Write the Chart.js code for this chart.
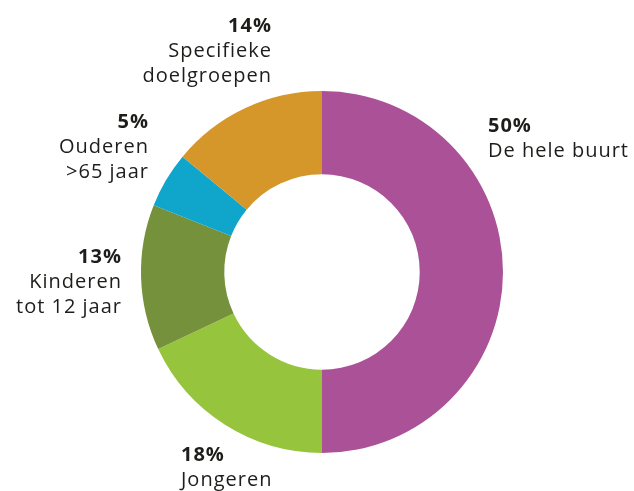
<!DOCTYPE html>
<html>
<head>
<title>Doelgroepen</title>
<style>
  html, body { margin:0; padding:0; background:#fff; }
  #wrap { width:634px; height:491px; }
</style>
</head>
<body>
<div id="wrap"><canvas id="chartDonut" width="634" height="491"></canvas></div>
<script src="https://cdn.jsdelivr.net/npm/chart.js@4.4.0/dist/chart.umd.min.js"></script>
<script>
// waarden, volgorde met de klok mee vanaf 12 uur
const labels = ['De hele buurt', 'Jongeren', 'Kinderen tot 12 jaar', 'Ouderen >65 jaar', 'Specifieke doelgroepen'];
const values = [50, 18, 13, 5, 14];
const labelLines = [['De hele buurt'], ['Jongeren'], ['Kinderen', 'tot 12 jaar'], ['Ouderen', '>65 jaar'], ['Specifieke', 'doelgroepen']];
const colors = ['#AA5198', '#96C43D', '#76913B', '#10A5CB', '#D5962A'];

// plek van de labels t.o.v. het midden (dx, dy) en uitlijning
const labelPlace = [
  { dx: 166, dy: -146, align: 'left' },
  { dx: -141, dy: 183, align: 'left' },
  { dx: -201, dy: -15, align: 'right' },
  { dx: -174, dy: -150, align: 'right' },
  { dx: -51, dy: -246, align: 'right' }
];

const fontFam = '"Open Sans", Lato, sans-serif';

const outsideLabels = {
  id: 'outsideLabels',
  afterDraw(chart) {
    const ctx = chart.ctx;
    const arc = chart.getDatasetMeta(0).data[0];
    const cx = arc.x, cy = arc.y;
    ctx.save();
    ctx.fillStyle = '#1d1d1b';
    ctx.textBaseline = 'middle';
    ctx.letterSpacing = '1px';
    values.forEach(function(v, i) {
      const p = labelPlace[i];
      ctx.textAlign = p.align;
      // bij rechts uitlijnen telt de letterafstand achteraan mee
      const x = cx + p.dx + (p.align === 'right' ? 1 : 0);
      let y = cy + p.dy;
      ctx.font = 'bold 20px ' + fontFam;
      ctx.fillText(v + '%', x, y);
      ctx.font = '20px ' + fontFam;
      labelLines[i].forEach(function(line) {
        y += 25;
        ctx.fillText(line, x, y);
      });
    });
    ctx.restore();
  }
};

new Chart(document.getElementById('chartDonut'), {
  type: 'doughnut',
  data: {
    labels: labels,
    datasets: [{
      data: values,
      backgroundColor: colors,
      borderWidth: 0
    }]
  },
  options: {
    responsive: false,
    animation: false,
    cutout: '54%',
    layout: { padding: { top: 91, bottom: 38, left: 141, right: 131 } },
    plugins: {
      legend: { display: false },
      tooltip: { enabled: false }
    }
  },
  plugins: [outsideLabels]
});
</script>
</body>
</html>
